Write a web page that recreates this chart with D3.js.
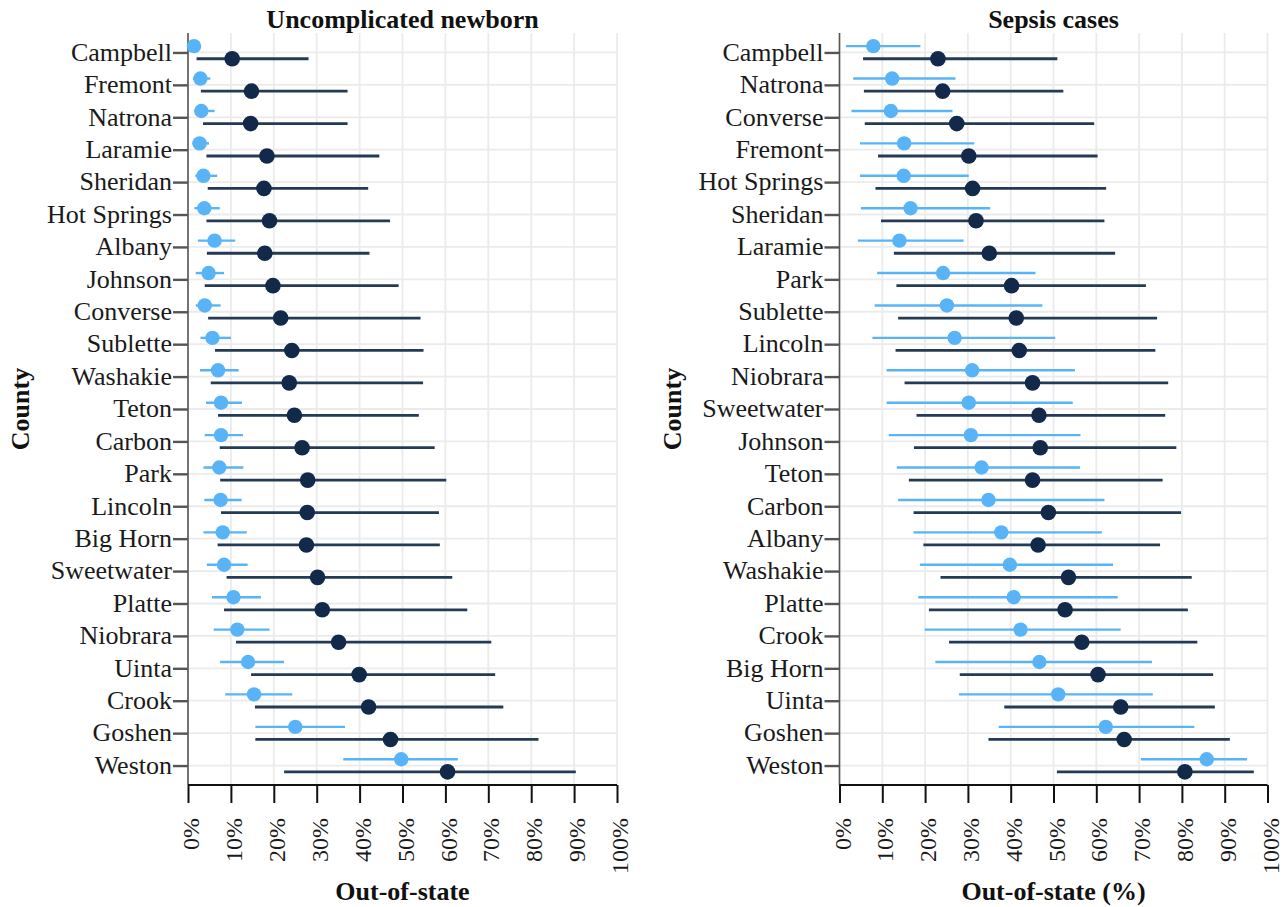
<!DOCTYPE html>
<html>
<head>
<meta charset="utf-8">
<script src="https://cdn.jsdelivr.net/npm/d3@7"></script>
<style>
  html, body { margin: 0; padding: 0; background: #ffffff; }
  svg { display: block; }
  text { font-family: "Liberation Serif", "DejaVu Serif", serif; }
</style>
</head>
<body>
<svg id="chart" width="1286" height="907"></svg>
<script>
// ---- Uncomplicated newborn: out-of-state share by county (%) ----
const newbornCounties = ["Campbell","Fremont","Natrona","Laramie","Sheridan","Hot Springs","Albany","Johnson",
  "Converse","Sublette","Washakie","Teton","Carbon","Park","Lincoln","Big Horn",
  "Sweetwater","Platte","Niobrara","Uinta","Crook","Goshen","Weston"];
const newbornLightEst = [1.4, 2.9, 3.1, 2.7, 3.6, 3.8, 6.2, 4.8, 3.9, 5.7, 7.0, 7.7, 7.7, 7.3, 7.6, 8.1, 8.4, 10.6, 11.5, 14.0, 15.4, 25.0, 49.7];
const newbornLightLo  = [0.5, 1.2, 1.5, 1.0, 1.7, 1.5, 2.3, 1.8, 1.8, 2.9, 2.8, 4.2, 3.9, 3.6, 3.8, 3.6, 4.4, 5.6, 6.0, 7.5, 8.7, 15.7, 36.2];
const newbornLightHi  = [2.5, 5.2, 6.2, 4.9, 6.8, 7.4, 11.0, 8.4, 7.6, 10.0, 11.8, 12.6, 12.8, 12.9, 12.5, 13.7, 13.9, 17.0, 19.0, 22.4, 24.3, 36.6, 62.9];
const newbornDarkEst  = [10.3, 14.8, 14.6, 18.4, 17.7, 19.0, 17.9, 19.8, 21.6, 24.2, 23.6, 24.8, 26.6, 27.9, 27.8, 27.6, 30.2, 31.3, 35.1, 39.9, 42.1, 47.2, 60.5];
const newbornDarkLo   = [2.0, 3.0, 3.5, 4.3, 4.6, 4.3, 4.4, 3.9, 4.7, 6.3, 5.3, 7.0, 7.4, 7.5, 7.7, 6.9, 9.0, 8.4, 11.2, 14.7, 15.6, 15.7, 22.4];
const newbornDarkHi   = [28.1, 37.2, 37.2, 44.6, 42.0, 47.1, 42.3, 49.1, 54.2, 54.9, 54.8, 53.8, 57.5, 60.2, 58.5, 58.7, 61.6, 65.1, 70.7, 71.6, 73.5, 81.7, 90.4];

// ---- Sepsis cases: out-of-state share by county (%) ----
const sepsisCounties = ["Campbell","Natrona","Converse","Fremont","Hot Springs","Sheridan","Laramie","Park",
  "Sublette","Lincoln","Niobrara","Sweetwater","Johnson","Teton","Carbon","Albany",
  "Washakie","Platte","Crook","Big Horn","Uinta","Goshen","Weston"];
const sepsisLightEst = [7.9, 12.3, 12.0, 15.1, 15.0, 16.6, 14.0, 24.2, 25.1, 26.9, 31.0, 30.2, 30.7, 33.2, 34.8, 37.8, 39.8, 40.7, 42.3, 46.7, 51.1, 62.2, 85.8];
const sepsisLightLo  = [1.5, 3.2, 2.8, 4.8, 4.8, 5.0, 4.3, 8.8, 8.2, 7.7, 11.0, 11.0, 11.5, 13.4, 13.7, 17.3, 18.8, 18.4, 19.9, 22.4, 27.9, 37.2, 70.4];
const sepsisLightHi  = [18.9, 27.1, 26.4, 31.5, 30.2, 35.2, 29.0, 45.8, 47.4, 50.4, 55.0, 54.5, 56.3, 56.2, 61.9, 61.3, 63.9, 65.0, 65.7, 73.0, 73.2, 82.9, 95.2];
const sepsisDarkEst  = [23.0, 24.1, 27.4, 30.2, 31.1, 31.9, 35.0, 40.2, 41.3, 42.0, 45.1, 46.6, 46.9, 45.1, 48.8, 46.4, 53.5, 52.7, 56.6, 60.4, 65.7, 66.5, 80.7];
const sepsisDarkLo   = [5.5, 5.7, 5.9, 9.0, 8.4, 9.7, 12.7, 13.3, 13.7, 13.1, 15.2, 18.0, 17.4, 16.2, 17.3, 19.6, 23.6, 20.9, 25.6, 28.1, 38.5, 34.8, 50.8];
const sepsisDarkHi   = [50.9, 52.3, 59.5, 60.3, 62.3, 61.9, 64.4, 71.6, 74.2, 73.8, 76.8, 76.1, 78.7, 75.5, 79.8, 74.9, 82.3, 81.4, 83.6, 87.3, 87.7, 91.2, 96.8];

const xTicks = d3.range(0, 101, 10);

const lightColor = "#58b4f7";
const darkPoint = "#13294a";
const darkLine = "#243a55";
const gridColor = "#ebebeb";

const svg = d3.select("#chart");

function buildRows(counties, lEst, lLo, lHi, dEst, dLo, dHi) {
  return counties.map((c, i) => ({
    county: c,
    light: { est: lEst[i], lo: lLo[i], hi: lHi[i] },
    dark: { est: dEst[i], lo: dLo[i], hi: dHi[i] }
  }));
}

function drawPanel(opts) {
  const { rows, x0, x1, title, xTitle } = opts;
  const top = 33, bottom = 785;
  const x = d3.scaleLinear().domain([0, 100]).range([x0, x1]);
  const y = d3.scalePoint().domain(rows.map(r => r.county)).range([top, bottom]).padding(0.6);
  const g = svg.append("g");

  // grid
  g.append("g").selectAll("line.vg").data(xTicks).join("line")
    .attr("x1", d => x(d)).attr("x2", d => x(d))
    .attr("y1", top).attr("y2", bottom)
    .attr("stroke", gridColor).attr("stroke-width", 1.8);
  g.append("g").selectAll("line.hg").data(rows).join("line")
    .attr("x1", x0).attr("x2", x1)
    .attr("y1", d => y(d.county)).attr("y2", d => y(d.county))
    .attr("stroke", gridColor).attr("stroke-width", 1.8);

  // y axis
  const yAxis = g.append("g").attr("transform", `translate(${x0},0)`)
    .call(d3.axisLeft(y).tickSize(15).tickPadding(1));
  yAxis.select(".domain").attr("d", `M0,${top}V${bottom}`).attr("stroke", "#555").attr("stroke-width", 1.6);
  yAxis.selectAll(".tick line").attr("stroke", "#555").attr("stroke-width", 2.4);
  yAxis.selectAll(".tick text").attr("font-size", 26).attr("fill", "#1a1a1a")
    .attr("font-family", "Liberation Serif, serif").attr("dy", "0.3em");

  // x axis
  const xAxis = g.append("g").attr("transform", `translate(0,${bottom})`)
    .call(d3.axisBottom(x).tickValues(xTicks).tickSize(18).tickFormat(d => d + "%"));
  xAxis.select(".domain").attr("d", `M${x0},0H${x1}`).attr("stroke", "#111").attr("stroke-width", 2.2);
  xAxis.selectAll(".tick line").attr("stroke", "#111").attr("stroke-width", 2);
  xAxis.selectAll(".tick text")
    .attr("font-size", 24).attr("fill", "#1a1a1a").attr("font-family", "Liberation Serif, serif")
    .attr("text-anchor", "end")
    .attr("transform", "translate(2,33) rotate(-90)")
    .attr("x", 0).attr("y", 0).attr("dy", "0.36em");

  // intervals and points
  const off = 6.3;
  const marks = g.append("g");
  marks.selectAll("line.dk").data(rows).join("line")
    .attr("x1", d => x(d.dark.lo)).attr("x2", d => x(d.dark.hi))
    .attr("y1", d => y(d.county) + off).attr("y2", d => y(d.county) + off)
    .attr("stroke", darkLine).attr("stroke-width", 2.8);
  marks.selectAll("line.lt").data(rows).join("line")
    .attr("x1", d => x(d.light.lo)).attr("x2", d => x(d.light.hi))
    .attr("y1", d => y(d.county) - off).attr("y2", d => y(d.county) - off)
    .attr("stroke", lightColor).attr("stroke-width", 2.4);
  marks.selectAll("circle.lt").data(rows).join("circle")
    .attr("cx", d => x(d.light.est)).attr("cy", d => y(d.county) - off)
    .attr("r", 7.2).attr("fill", lightColor);
  marks.selectAll("circle.dk").data(rows).join("circle")
    .attr("cx", d => x(d.dark.est)).attr("cy", d => y(d.county) + off)
    .attr("r", 7.8).attr("fill", darkPoint);

  // titles
  svg.append("text").attr("x", (x0 + x1) / 2).attr("y", 28)
    .attr("text-anchor", "middle").attr("font-size", 26).attr("font-weight", "bold")
    .attr("fill", "#111").text(title);
  svg.append("text").attr("x", (x0 + x1) / 2).attr("y", 900)
    .attr("text-anchor", "middle").attr("font-size", 26).attr("font-weight", "bold")
    .attr("fill", "#111").text(xTitle);
  svg.append("text")
    .attr("transform", `translate(${opts.yTitleX},${(top + bottom) / 2}) rotate(-90)`)
    .attr("text-anchor", "middle").attr("font-size", 26).attr("font-weight", "bold")
    .attr("fill", "#111").text("County");
}

drawPanel({
  rows: buildRows(newbornCounties, newbornLightEst, newbornLightLo, newbornLightHi, newbornDarkEst, newbornDarkLo, newbornDarkHi),
  x0: 188, x1: 617, title: "Uncomplicated newborn", xTitle: "Out-of-state", yTitleX: 29
});
drawPanel({
  rows: buildRows(sepsisCounties, sepsisLightEst, sepsisLightLo, sepsisLightHi, sepsisDarkEst, sepsisDarkLo, sepsisDarkHi),
  x0: 839.5, x1: 1267.5, title: "Sepsis cases", xTitle: "Out-of-state (%)", yTitleX: 681
});
</script>
</body>
</html>
